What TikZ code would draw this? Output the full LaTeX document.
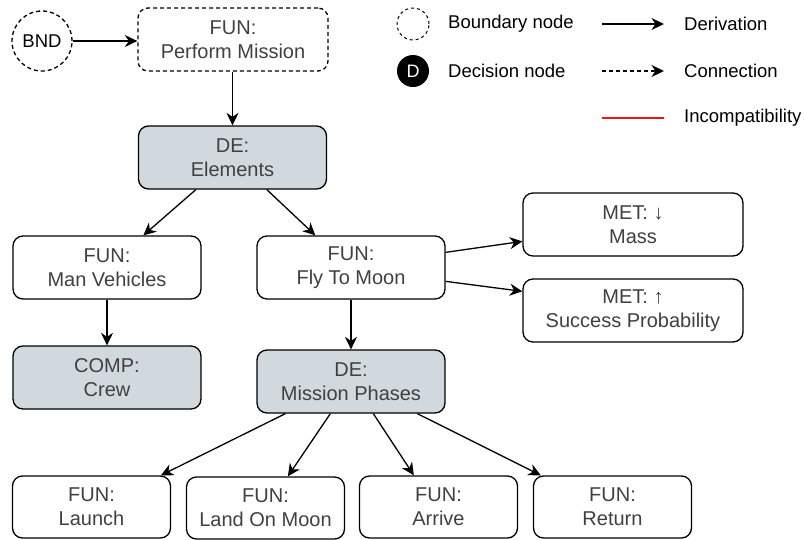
\documentclass[tikz,border=0pt]{standalone}
\usepackage{fontspec}
\setmainfont{Liberation Sans}
\usetikzlibrary{arrows.meta,calc}
\definecolor{txt}{RGB}{64,64,64}
\definecolor{defill}{RGB}{209,216,222}
\definecolor{incred}{RGB}{240,20,20}
\begin{document}
\begin{tikzpicture}[x=1pt,y=-1pt,
  lw/.style={line width=1.3pt},
  boxbase/.style={draw, lw, rounded corners=10pt, align=center, text=txt,
    font=\fontsize{20}{24}\selectfont, inner sep=0pt},
  stdbox/.style={boxbase, minimum width=188pt, minimum height=63pt},
  metbox/.style={boxbase, minimum width=220pt, minimum height=63pt},
  leafbox/.style={boxbase, minimum width=158pt, minimum height=62pt},
  debox/.style={stdbox, fill=defill},
  dashbox/.style={stdbox, dash pattern=on 4pt off 3pt},
  legtext/.style={anchor=west, font=\fontsize{18.5}{22}\selectfont, text=black, inner sep=0pt},
  deriv/.style={lw, -{Stealth[length=12.5pt, width=12pt, inset=4pt]}},
  conn/.style={deriv, dash pattern=on 4pt off 3pt}
]
\useasboundingbox (0,0) rectangle (804,539);

% main nodes
\node[circle, draw, lw, dash pattern=on 4pt off 3pt, minimum size=60pt, inner sep=0pt,
      font=\fontsize{18.5}{22}\selectfont, text=black] (bnd) at (42,41) {BND};
\node[dashbox, minimum width=190pt] (pm) at (233,39.5) {FUN:\\Perform Mission};
\node[debox] (el) at (232.5,157.5) {DE:\\Elements};
\node[stdbox] (mv) at (107,267.5) {FUN:\\Man Vehicles};
\node[stdbox] (fly) at (351,267.5) {FUN:\\Fly To Moon};
\node[debox] (crew) at (107,377.5) {COMP:\\Crew};
\node[debox] (mp) at (351,381.5) {DE:\\Mission Phases};
\node[metbox] (mass) at (633,224.5) {MET: ↓\\Mass};
\node[metbox] (succ) at (633,310.5) {MET: ↑\\Success Probability};
\node[leafbox] (launch) at (91.5,507) {FUN:\\Launch};
\node[leafbox] (land) at (265.5,508) {FUN:\\Land On Moon};
\node[leafbox] (arrive) at (438.5,507) {FUN:\\Arrive};
\node[leafbox] (ret) at (612.5,507) {FUN:\\Return};

% connectors
\draw[deriv] (bnd.east) -- (bnd.east -| pm.west);
\draw[deriv] (pm.south -| el.north) -- (el.north);
\draw[deriv] ($(el.south west)+(58,0)$) -- ($(mv.north west)+(131,0)$);
\draw[deriv] ($(el.south west)+(129,0)$) -- ($(fly.north west)+(59,0)$);
\draw[deriv] (mv.south) -- (crew.north);
\draw[deriv] (fly.south) -- (fly.south |- mp.north);
\draw[deriv] ($(fly.north east)+(0,17)$) -- ($(mass.north west)+(0,49)$);
\draw[deriv] ($(fly.north east)+(0,46)$) -- ($(succ.north west)+(0,13)$);
\draw[deriv] ($(mp.south west)+(29,0)$) -- ($(launch.north west)+(149,0)$);
\draw[deriv] ($(mp.south west)+(74,0)$) -- ($(land.north west)+(102,0)$);
\draw[deriv] ($(mp.south west)+(117,0)$) -- ($(arrive.north west)+(55,0)$);
\draw[deriv] ($(mp.south west)+(161,0)$) -- ($(ret.north west)+(8,0)$);

% legend
\node[circle, draw, line width=1pt, dash pattern=on 3pt off 3pt, minimum size=32pt, inner sep=0pt] (lbnd) at (413,24) {};
\node[legtext] (lbndt) at (448,24) {Boundary node};
\node[circle, fill=black, minimum size=32pt, inner sep=0pt, text=white,
      font=\fontsize{18}{20}\selectfont] (ldec) at (413,71) {D};
\node[legtext] (ldect) at (448,71) {Decision node};
\coordinate (la1) at (602,24);
\coordinate (la2) at (664,24);
\draw[deriv] (la1) -- (la2);
\node[legtext] (lderiv) at (684,24) {Derivation};
\coordinate (lb1) at (602,71);
\coordinate (lb2) at (664,71);
\draw[conn] (lb1) -- (lb2);
\node[legtext] (lconn) at (684,71) {Connection};
\coordinate (lc1) at (602,118);
\coordinate (lc2) at (664,118);
\draw[incred, lw] (lc1) -- (lc2);
\node[legtext] (linc) at (684,118) {Incompatibility};
\end{tikzpicture}
\end{document}
